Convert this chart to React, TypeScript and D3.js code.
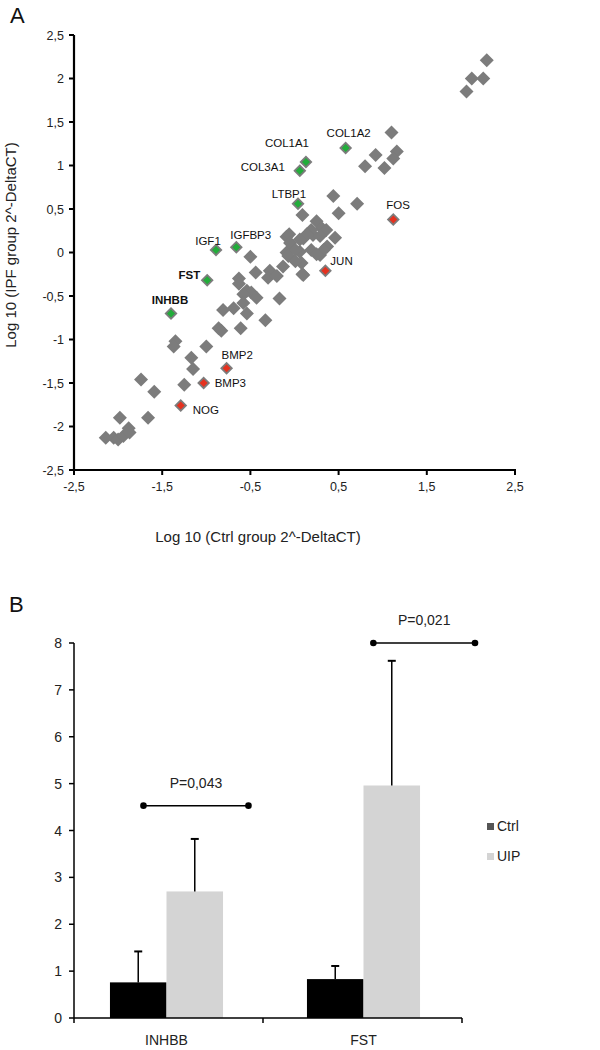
import React, { useLayoutEffect } from "react";
import * as d3 from "d3";

// ---------- Panel A data ----------
const grayCtrl = [2.18, 2.01, 2.14, 1.95, 1.10, 0.92, 1.16, 1.12, 0.80, 1.02, 0.44, 0.71, 0.50, 0.09, 0.25, 0.31, 0.19, 0.36,
  -0.09, 0.10, 0.21, 0.46, 0.37, 0.29, 0.06, -0.09, 0.08, 0.09, -0.06, -0.05, 0.01, 0.14, 0.29, 0.33, 0.19, 0.06,
  -0.50, -0.44, -0.63, -0.63, -0.28, -0.30, -0.20, -0.13, -0.07, 0.01, 0.25, 0.10,
  -0.54, -0.49, -0.43, -0.58, -0.17, -0.58, -0.69, -0.81, -0.54, -0.33, -0.86, -0.83, -0.61,
  -1.00, -1.17, -1.35, -1.37, -1.15, -1.25, -1.74, -1.59, -1.66,
  -1.98, -1.88, -2.05, -2.00, -1.94, -1.87, -2.14];
const grayIpf = [2.21, 2.00, 2.00, 1.85, 1.38, 1.12, 1.16, 1.08, 0.99, 0.97, 0.65, 0.56, 0.45, 0.43, 0.36, 0.28, 0.26, 0.26,
  0.18, 0.16, 0.20, 0.17, 0.07, -0.03, 0.01, 0.00, -0.12, -0.25, 0.21, 0.11, 0.03, 0.21, 0.19, 0.03, 0.03, 0.15,
  -0.05, -0.23, -0.30, -0.36, -0.21, -0.29, -0.27, -0.16, -0.04, -0.10, -0.02, -0.26,
  -0.44, -0.46, -0.52, -0.48, -0.53, -0.58, -0.64, -0.66, -0.70, -0.78, -0.87, -0.90, -0.87,
  -1.08, -1.21, -1.02, -1.08, -1.34, -1.52, -1.46, -1.60, -1.90,
  -1.90, -2.02, -2.13, -2.15, -2.11, -2.07, -2.13];

const genes = ["COL1A1", "COL3A1", "COL1A2", "LTBP1", "FOS", "JUN", "IGF1", "IGFBP3", "FST", "INHBB", "BMP2", "BMP3", "NOG"];
const geneCtrl = [0.13, 0.06, 0.58, 0.04, 1.12, 0.35, -0.89, -0.66, -0.99, -1.40, -0.77, -1.03, -1.29];
const geneIpf = [1.04, 0.94, 1.20, 0.56, 0.38, -0.21, 0.03, 0.06, -0.32, -0.70, -1.33, -1.50, -1.76];
const geneUp = [true, true, true, true, false, false, true, true, true, true, false, false, false];
const geneBold = [false, false, false, false, false, false, false, false, true, true, false, false, false];

const xTicksA = [-2.5, -1.5, -0.5, 0.5, 1.5, 2.5];
const yTicksA = [-2.5, -2, -1.5, -1, -0.5, 0, 0.5, 1, 1.5, 2, 2.5];

// ---------- Panel B data ----------
const categories = ["INHBB", "FST"];
const groups = ["Ctrl", "UIP"];
const ctrlMean = [0.76, 0.83];
const ctrlErr = [1.42, 1.11];
const uipMean = [2.70, 4.96];
const uipErr = [3.82, 7.62];
const pLabels = ["P=0,043", "P=0,021"];
const pLevel = [4.53, 8.0];
const yTicksB = [0, 1, 2, 3, 4, 5, 6, 7, 8];

// label placement (style)
const labelStyle: Record<string, { dx: number; dy: number; anchor: string }> = {
  COL1A1: { dx: -19, dy: -15, anchor: "middle" },
  COL3A1: { dx: -15, dy: 0, anchor: "end" },
  COL1A2: { dx: 3, dy: -11, anchor: "middle" },
  LTBP1: { dx: -9, dy: -6, anchor: "middle" },
  FOS: { dx: -7, dy: -10, anchor: "start" },
  JUN: { dx: 5, dy: -6, anchor: "start" },
  IGF1: { dx: -8, dy: -5, anchor: "middle" },
  IGFBP3: { dx: -6, dy: -8, anchor: "start" },
  FST: { dx: -7, dy: -1, anchor: "end" },
  INHBB: { dx: -1, dy: -9, anchor: "middle" },
  BMP2: { dx: -5, dy: -9, anchor: "start" },
  BMP3: { dx: 11, dy: 4, anchor: "start" },
  NOG: { dx: 12, dy: 8, anchor: "start" },
};

const FONT = "Arial, 'Liberation Sans', Helvetica, sans-serif";
const GRAY = "#7c7c7c";
const GREEN = "#22ad3a";
const RED = "#e5311f";

function diamond(cx: number, cy: number, r: number) {
  return `M${cx},${cy - r}L${cx + r},${cy}L${cx},${cy + r}L${cx - r},${cy}Z`;
}

export default function App() {
  useLayoutEffect(() => {
    document.body.style.margin = "0";
  }, []);

  // Panel A scales
  const xA = d3.scaleLinear().domain([-2.5, 2.5]).range([74, 515]);
  const yA = d3.scaleLinear().domain([-2.5, 2.5]).range([470, 35]);
  const fmt = (v: number) => String(v).replace(".", ",");

  // Panel B scales
  const xB = d3.scaleBand().domain(categories).range([68, 462]).padding(0);
  const yB = d3.scaleLinear().domain([0, 8]).range([1018, 643]);
  const barW = xB.bandwidth() * 0.287;
  const bracketFrac = [[-0.117, 0.416], [0.05, 0.566]];

  return (
    <svg width={600} height={1050} style={{ display: "block", background: "#fff" }} fontFamily={FONT}>
      <rect width={600} height={1050} fill="#fff" />
      {/* ---------------- Panel A ---------------- */}
      <text x={10} y={23} fontSize={22} fill="#111">A</text>
      {/* points */}
      {grayCtrl.map((v, i) => (
        <path key={"g" + i} d={diamond(xA(v), yA(grayIpf[i]), 7)} fill={GRAY} />
      ))}
      {genes.map((g, i) => (
        <g key={g}>
          <path d={diamond(xA(geneCtrl[i]), yA(geneIpf[i]), 6.5)} fill={GRAY} />
          <path d={diamond(xA(geneCtrl[i]), yA(geneIpf[i]), 4)} fill={geneUp[i] ? GREEN : RED} />
        </g>
      ))}
      {genes.map((g, i) => {
        const s = labelStyle[g];
        return (
          <text key={"l" + g} x={xA(geneCtrl[i]) + s.dx} y={yA(geneIpf[i]) + s.dy} textAnchor={s.anchor}
            fontSize={11.5} fontWeight={geneBold[i] ? "bold" : "normal"} fill="#111">{g}</text>
        );
      })}
      {/* axes */}
      <line x1={xA(-2.5)} x2={xA(-2.5)} y1={yA(2.5)} y2={yA(-2.5)} stroke="#000" strokeWidth={2.2} />
      <line x1={xA(-2.5) - 1} x2={xA(2.5) + 1} y1={yA(-2.5)} y2={yA(-2.5)} stroke="#000" strokeWidth={2.2} />
      {yTicksA.map((t) => (
        <g key={"ya" + t}>
          <line x1={xA(-2.5) - 5} x2={xA(-2.5)} y1={yA(t)} y2={yA(t)} stroke="#000" strokeWidth={2} />
          <text x={xA(-2.5) - 10} y={yA(t) + 4.5} textAnchor="end" fontSize={12.5} fill="#222">{fmt(t)}</text>
        </g>
      ))}
      {xTicksA.map((t) => (
        <g key={"xa" + t}>
          <line x1={xA(t)} x2={xA(t)} y1={yA(-2.5) - 1} y2={yA(-2.5) + 5} stroke="#000" strokeWidth={2} />
          <text x={xA(t)} y={yA(-2.5) + 21} textAnchor="middle" fontSize={12.5} fill="#222">{fmt(t)}</text>
        </g>
      ))}
      <text x={258} y={542} textAnchor="middle" fontSize={15} fill="#222">Log 10 (Ctrl group 2^-DeltaCT)</text>
      <text transform={`translate(16,${245}) rotate(-90)`} textAnchor="middle" fontSize={15} fill="#222">
        Log 10 (IPF group 2^-DeltaCT)
      </text>

      {/* ---------------- Panel B ---------------- */}
      <text x={9} y={612} fontSize={22} fill="#111">B</text>
      {categories.map((c, i) => {
        const cx = (xB(c) as number) + xB.bandwidth() / 2;
        return (
          <g key={c}>
            <rect x={cx - barW} y={yB(ctrlMean[i])} width={barW} height={yB(0) - yB(ctrlMean[i])} fill="#000" />
            <rect x={cx} y={yB(uipMean[i])} width={barW} height={yB(0) - yB(uipMean[i])} fill="#d4d4d4" />
            <line x1={cx - barW / 2} x2={cx - barW / 2} y1={yB(ctrlMean[i])} y2={yB(ctrlErr[i])} stroke="#000" strokeWidth={1.5} />
            <line x1={cx - barW / 2 - 4} x2={cx - barW / 2 + 4} y1={yB(ctrlErr[i])} y2={yB(ctrlErr[i])} stroke="#000" strokeWidth={2} />
            <line x1={cx + barW / 2} x2={cx + barW / 2} y1={yB(uipMean[i])} y2={yB(uipErr[i])} stroke="#000" strokeWidth={1.5} />
            <line x1={cx + barW / 2 - 4} x2={cx + barW / 2 + 4} y1={yB(uipErr[i])} y2={yB(uipErr[i])} stroke="#000" strokeWidth={2} />
            {/* p bracket */}
            {(() => {
              const x1 = cx + bracketFrac[i][0] * xB.bandwidth();
              const x2 = cx + bracketFrac[i][1] * xB.bandwidth();
              const yy = yB(pLevel[i]);
              return (
                <g>
                  <line x1={x1} x2={x2} y1={yy} y2={yy} stroke="#000" strokeWidth={1.5} />
                  <circle cx={x1} cy={yy} r={3.3} fill="#000" />
                  <circle cx={x2} cy={yy} r={3.3} fill="#000" />
                  <text x={(x1 + x2) / 2} y={yy - 18} textAnchor="middle" fontSize={14} fill="#222">{pLabels[i]}</text>
                </g>
              );
            })()}
            <text x={cx} y={1045} textAnchor="middle" fontSize={14} fill="#222">{c}</text>
          </g>
        );
      })}
      {/* axes B */}
      <line x1={74} x2={74} y1={yB(8)} y2={yB(0)} stroke="#000" strokeWidth={1.5} />
      <line x1={74} x2={462} y1={yB(0)} y2={yB(0)} stroke="#000" strokeWidth={1.5} />
      {yTicksB.map((t) => (
        <g key={"yb" + t}>
          <line x1={69} x2={74} y1={yB(t)} y2={yB(t)} stroke="#000" strokeWidth={1.5} />
          <text x={62} y={yB(t) + 5} textAnchor="end" fontSize={14} fill="#222">{t}</text>
        </g>
      ))}
      {[74, 263, 462].map((x) => (
        <line key={"xb" + x} x1={x} x2={x} y1={yB(0)} y2={yB(0) + 5} stroke="#000" strokeWidth={1.5} />
      ))}
      {/* legend */}
      {groups.map((g, i) => (
        <g key={g}>
          <rect x={487} y={823 + i * 30} width={7} height={7} fill={i === 0 ? "#555" : "#d4d4d4"} />
          <text x={497} y={831 + i * 30} fontSize={14} fill="#222">{g}</text>
        </g>
      ))}
    </svg>
  );
}
